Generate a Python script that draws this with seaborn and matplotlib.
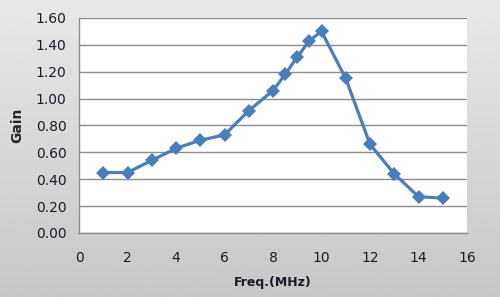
import numpy as np
import pandas as pd
import matplotlib
matplotlib.use('Agg')
import matplotlib.pyplot as plt
import seaborn as sns

freq = [1, 2, 3, 4, 5, 6, 7, 8, 8.5, 9, 9.5, 10, 11, 12, 13, 14, 15]
gain = [0.45, 0.45, 0.54, 0.63, 0.69, 0.73, 0.91, 1.06, 1.18, 1.31, 1.43, 1.50,
        1.15, 0.66, 0.44, 0.27, 0.26]
x_ticks = [0, 2, 4, 6, 8, 10, 12, 14, 16]
y_ticks = [0.0, 0.2, 0.4, 0.6, 0.8, 1.0, 1.2, 1.4, 1.6]


def main():
    df = pd.DataFrame({'Freq': freq, 'Gain': gain})

    sns.set_style('white')
    plt.rcParams['font.family'] = ['DejaVu Sans']

    fig = plt.figure(figsize=(5, 2.97), dpi=100)

    # grey gradient background like the Excel chart area
    bg = fig.add_axes([0, 0, 1, 1], zorder=0)
    grad = np.linspace(0.91, 0.78, 256).reshape(-1, 1)
    bg.imshow(grad, aspect='auto', cmap='gray', vmin=0, vmax=1, extent=[0, 1, 0, 1])
    bg.axis('off')

    ax = fig.add_axes([0.158, 0.2155, 0.776, 0.724], zorder=1)
    ax.set_facecolor('white')
    sns.lineplot(x='Freq', y='Gain', data=df, ax=ax, color='#4a7ebb',
                 linewidth=2.3, marker='D', markersize=7, markeredgewidth=0)

    ax.set_xlim(0, 16)
    ax.set_ylim(0, 1.6)
    ax.set_xticks(x_ticks)
    ax.set_yticks(y_ticks)
    ax.set_yticklabels(['%.2f' % v for v in y_ticks])
    ax.yaxis.grid(True, color='#8c8c8c', linewidth=1)
    ax.set_axisbelow(True)
    for s in ['top', 'right']:
        ax.spines[s].set_visible(False)
    for s in ['left', 'bottom']:
        ax.spines[s].set_color('#8c8c8c')
        ax.spines[s].set_linewidth(1)
    ax.tick_params(axis='both', which='both', direction='out', length=5,
                   color='#8c8c8c', labelsize=10, labelcolor='#1a1a2a')
    ax.tick_params(axis='x', pad=8)
    ax.tick_params(axis='y', pad=4)
    ax.set_xlabel('Freq.(MHz)', fontsize=9, fontweight='bold', color='#1a1a2a', labelpad=8)
    ax.set_ylabel('Gain', fontsize=10, fontweight='bold', labelpad=8)

    fig.savefig('out.png', dpi=100)
    plt.close()


if __name__ == '__main__':
    main()
